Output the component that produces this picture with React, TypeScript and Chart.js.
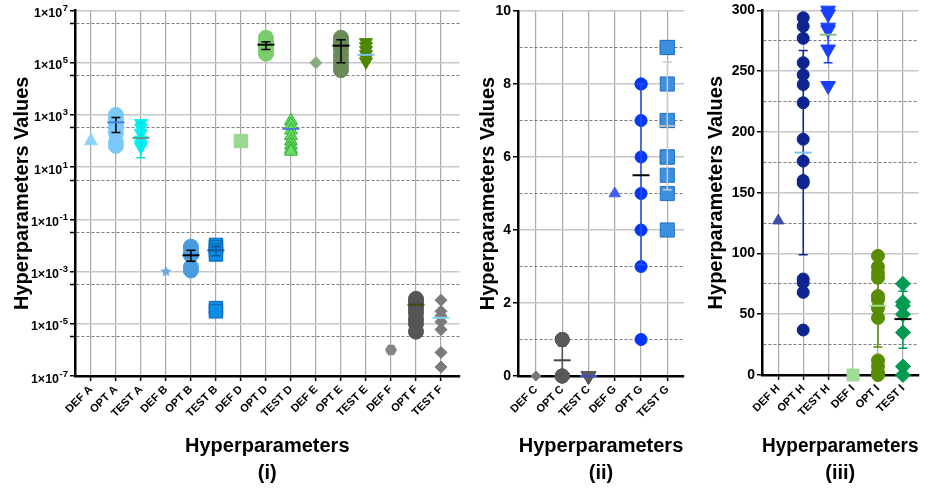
import React, { useEffect, useRef } from 'react';
import { Chart, registerables } from 'chart.js';
Chart.register(...registerables);

const FONT = '"Liberation Sans", Arial, Helvetica, "DejaVu Sans", sans-serif';

// ---------- Panel (i): log scale ----------
const catsI = ['DEF A', 'OPT A', 'TEST A', 'DEF B', 'OPT B', 'TEST B', 'DEF D', 'OPT D', 'TEST D', 'DEF E', 'OPT E', 'TEST E', 'DEF F', 'OPT F', 'TEST F'];
const valsI: number[][] = [
  [100],
  [1000, 850, 650, 450, 300, 200, 90, 65],
  [480, 320, 200, 110, 75, 60],
  [0.001],
  [0.009, 0.0075, 0.0055, 0.0042, 0.0015, 0.0011],
  [0.0105, 0.0085, 0.0065, 0.0045, 0.00004, 0.00003],
  [100],
  [900000, 700000, 550000, 400000, 300000, 220000],
  [600, 420, 260, 160, 100, 70, 50, 40],
  [100000],
  [900000, 700000, 500000, 330000, 200000, 120000, 80000, 52000],
  [600000, 420000, 300000, 210000, 150000, 110000],
  [0.000001],
  [0.00009, 0.00007, 0.00005, 0.000035, 0.000025, 0.000015, 0.00001, 0.000005],
  [0.00008, 0.00003, 0.00002, 0.000012, 0.000006, 0.0000008, 0.00000022],
];
const meansI = [null, 520, 130, null, 0.0042, 0.0065, null, 490000, 290, null, 450000, 200000, null, 0.000054, 0.000017];
const errLoI = [null, 210, 23, null, 0.0025, 0.004, null, 320000, null, null, 100000, null, null, null, null];
const errHiI = [null, 800, 500, null, 0.0065, 0.0095, null, 640000, null, null, 750000, null, null, null, null];
const yTicksI = [1e-7, 3.16e-6, 1e-5, 3.16e-4, 1e-3, 3.16e-2, 1e-1, 3.16, 10, 316, 1000, 31600, 1e5, 3.16e6, 1e7];
const yLabelsI = ['1×10^-7', '', '1×10^-5', '', '1×10^-3', '', '1×10^-1', '', '1×10^1', '', '1×10^3', '', '1×10^5', '', '1×10^7'];

// ---------- Panel (ii) ----------
const catsII = ['DEF C', 'OPT C', 'TEST C', 'DEF G', 'OPT G', 'TEST G'];
const valsII: number[][] = [
  [0],
  [1, 1, 1, 0, 0, 0, 0],
  [0, 0, 0],
  [5],
  [1, 3, 4, 5, 6, 7, 8, 8],
  [4, 5, 5.5, 6, 6, 7, 7, 8, 9, 9],
];
const meansII = [null, 0.43, 0, null, 5.5, 6.85];
const errLoII = [null, 0.05, null, null, 3.05, 5.1];
const errHiII = [null, 0.82, null, null, 8, 8.6];
const yTicksII = [0, 1, 2, 3, 4, 5, 6, 7, 8, 9, 10];
const yLabelsII = ['0', '', '2', '', '4', '', '6', '', '8', '', '10'];

// ---------- Panel (iii) ----------
const catsIII = ['DEF H', 'OPT H', 'TEST H', 'DEF I', 'OPT I', 'TEST I'];
const valsIII: number[][] = [
  [127],
  [294, 287, 277, 257, 247, 239, 224, 194, 176, 160, 158, 79, 76, 68, 37],
  [300, 297, 286, 284, 268, 238],
  [0],
  [98, 89, 84, 80, 65, 62, 55, 47, 12, 7, 2, 1, 0],
  [75, 60, 57, 50, 35, 7, 0],
];
const meansIII = [null, 183, 280, null, 57, 46];
const errLoIII = [null, 99, 257, null, 23, 22];
const errHiIII = [null, 267, 300, null, 91, 69];
const yTicksIII = [0, 25, 50, 75, 100, 125, 150, 175, 200, 225, 250, 275, 300];
const yLabelsIII = ['0', '', '50', '', '100', '', '150', '', '200', '', '250', '', '300'];

type Panel = {
  title: string;
  cats: string[];
  values: number[][];
  means: (number | null)[];
  lo: (number | null)[];
  hi: (number | null)[];
  styles: string[];
  colors: string[];
  borders: string[];
  radii: number[];
  meanColors: string[];
  errColors: string[];
  yType: 'linear' | 'logarithmic';
  yMin: number;
  yMax: number;
  yTicks: number[];
  yLabels: string[];
  yFont: number;
  superscript: boolean;
  minorTicks: boolean;
  xMin: number;
  xMax: number;
  yWidth: number;
  xHeight: number;
  padRight: number;
  yTitlePad: number;
};

const panelI: Panel = {
  title: '(i)', cats: catsI, values: valsI, means: meansI, lo: errLoI, hi: errHiI,
  styles: ['triangle', 'circle', 'triangleDown', 'star', 'circle', 'rect', 'rect', 'circle', 'triangle', 'rectRot', 'circle', 'triangleDown', 'hexagon', 'circle', 'rectRot'],
  colors: ['#8fd4f7', '#7cc8f8', '#00f2f2', '#6aa8e0', '#4a9ce2', '#0a8de6', '#98d890', '#7ccc6c', '#62e062', '#8aab7c', '#6a8a58', '#4a8800', '#858585', '#555555', '#7a7a7a'],
  borders: ['#8fd4f7', '#7cc8f8', '#00f2f2', '#6aa8e0', '#4a9ce2', '#0a64b4', '#98d890', '#7ccc6c', '#3caa3c', '#8aab7c', '#6a8a58', '#4a8800', '#858585', '#555555', '#7a7a7a'],
  radii: [7.5, 7.5, 7.5, 6, 7.5, 9.5, 9.5, 7.5, 7.5, 6, 7.5, 7.5, 6, 7.5, 6],
  meanColors: ['', '#4a7fd4', '#5b9e80', '', '#000', '#0b5aa0', '', '#000', '#4a7fd4', '', '#000', '#7fc0e8', '', '#3a4a10', '#7fd8f0'],
  errColors: ['', '#000', '#00e0e0', '', '#000', '#0b5aa0', '', '#000', '#3caa3c', '', '#000', '#2e5e00', '', '#333', '#666'],
  yType: 'logarithmic', yMin: 1e-7, yMax: 1e7, yTicks: yTicksI, yLabels: yLabelsI, yFont: 13, superscript: true, minorTicks: true,
  xMin: -0.636, xMax: 14.74, yWidth: 75, xHeight: 115, padRight: 8, yTitlePad: 10,
};

const panelII: Panel = {
  title: '(ii)', cats: catsII, values: valsII, means: meansII, lo: errLoII, hi: errHiII,
  styles: ['rectRot', 'circle', 'triangleDown', 'triangle', 'circle', 'rect'],
  colors: ['#777777', '#5a5a5a', '#5a5a5a', '#4060f0', '#0535f5', '#3a90e0'],
  borders: ['#777777', '#5a5a5a', '#5a5a5a', '#4060f0', '#0535f5', '#2a70c0'],
  radii: [5, 7, 8.5, 6.5, 6, 10],
  meanColors: ['', '#444', '#3050d0', '', '#000', '#bbbbbb'],
  errColors: ['', '#555', '', '', '#2050f0', '#cccccc'],
  yType: 'linear', yMin: 0, yMax: 10, yTicks: yTicksII, yLabels: yLabelsII, yFont: 14, superscript: false, minorTicks: false,
  xMin: -0.684, xMax: 5.635, yWidth: 48, xHeight: 115, padRight: 11, yTitlePad: 6,
};

const panelIII: Panel = {
  title: '(iii)', cats: catsIII, values: valsIII, means: meansIII, lo: errLoIII, hi: errHiIII,
  styles: ['triangle', 'circle', 'triangleDown', 'rect', 'circle', 'rectRot'],
  colors: ['#3a4fa5', '#0c2590', '#1a40ff', '#a0dc98', '#5a8c00', '#009a50'],
  borders: ['#3a4fa5', '#0c2590', '#1a40ff', '#a0dc98', '#5a8c00', '#009a50'],
  radii: [6.5, 6, 8.5, 8.5, 6.5, 7.5],
  meanColors: ['', '#80c0f0', '#8fc080', '', '#a0e090', '#000'],
  errColors: ['', '#0c2590', '#1a40ff', '', '#5a8c00', '#009a50'],
  yType: 'linear', yMin: 0, yMax: 300, yTicks: yTicksIII, yLabels: yLabelsIII, yFont: 14, superscript: false, minorTicks: false,
  xMin: -0.652, xMax: 5.625, yWidth: 67, xHeight: 116, padRight: 5, yTitlePad: 9,
};

function shapeCanvas(kind: string, r: number, color: string): HTMLCanvasElement {
  const c = document.createElement('canvas');
  const s = Math.ceil(2 * r + 2);
  c.width = s; c.height = s;
  const g = c.getContext('2d')!;
  const cx = s / 2, cy = s / 2;
  g.fillStyle = color;
  g.beginPath();
  if (kind === 'star') {
    for (let k = 0; k < 10; k++) {
      const rad = k % 2 === 0 ? r : r * 0.45;
      const a = -Math.PI / 2 + (k * Math.PI) / 5;
      const px = cx + rad * Math.cos(a), py = cy + rad * Math.sin(a);
      if (k === 0) g.moveTo(px, py); else g.lineTo(px, py);
    }
  } else {
    for (let k = 0; k < 6; k++) {
      const a = (k * Math.PI) / 3;
      const px = cx + r * Math.cos(a), py = cy + r * Math.sin(a);
      if (k === 0) g.moveTo(px, py); else g.lineTo(px, py);
    }
  }
  g.closePath();
  g.fill();
  return c;
}

function meanPlugin(p: Panel) {
  return {
    id: 'meanErr',
    afterDatasetsDraw(chart: any) {
      const { ctx } = chart;
      const x = chart.scales.x, y = chart.scales.y;
      ctx.save();
      p.means.forEach((m, i) => {
        const cx = x.getPixelForValue(i);
        const lo = p.lo[i], hi = p.hi[i];
        if (lo != null && hi != null) {
          const y1 = y.getPixelForValue(lo), y2 = y.getPixelForValue(hi);
          ctx.strokeStyle = p.errColors[i];
          ctx.lineWidth = 1.5;
          ctx.beginPath();
          ctx.moveTo(cx, y1); ctx.lineTo(cx, y2);
          ctx.moveTo(cx - 4.5, y1); ctx.lineTo(cx + 4.5, y1);
          ctx.moveTo(cx - 4.5, y2); ctx.lineTo(cx + 4.5, y2);
          ctx.stroke();
        }
        if (m != null) {
          const ym = y.getPixelForValue(m);
          ctx.strokeStyle = p.meanColors[i];
          ctx.lineWidth = 2;
          ctx.beginPath();
          ctx.moveTo(cx - 8.5, ym); ctx.lineTo(cx + 8.5, ym);
          ctx.stroke();
        }
      });
      // superscript tick labels (1×10^n)
      if (p.superscript) {
        const right = y.right - 7;
        p.yTicks.forEach((v, i) => {
          const lab = p.yLabels[i];
          if (!lab) return;
          const [base, exp] = lab.split('^');
          const ty = y.getPixelForValue(v);
          ctx.fillStyle = '#000';
          ctx.textBaseline = 'alphabetic';
          ctx.textAlign = 'left';
          ctx.font = `bold 9.5px ${FONT}`;
          const ew = ctx.measureText(exp).width;
          ctx.font = `bold 12.5px ${FONT}`;
          const bw = ctx.measureText(base).width;
          const x0 = right - ew - bw - 0.5;
          ctx.fillText(base, x0, ty + 6.5);
          ctx.font = `bold 9.5px ${FONT}`;
          ctx.fillText(exp, x0 + bw + 0.5, ty + 0.5);
        });
      }
      ctx.restore();
    },
  };
}

function makeChart(canvas: HTMLCanvasElement, p: Panel) {
  const isMinor = (i: number) => p.yLabels[i] === '';
  const datasets = p.values.map((vals, i) => {
    const st = p.styles[i];
    let pointStyle: any = st;
    if (st === 'triangleDown') pointStyle = 'triangle';
    if (st === 'star' || st === 'hexagon') pointStyle = shapeCanvas(st, p.radii[i], p.colors[i]);
    return {
      data: vals.map((v) => ({ x: i, y: v })),
      pointStyle,
      rotation: st === 'triangleDown' ? 180 : 0,
      pointRadius: p.radii[i],
      backgroundColor: p.colors[i],
      borderColor: p.borders[i],
      borderWidth: 1,
      clip: false as any,
    };
  });
  return new Chart(canvas, {
    type: 'scatter',
    data: { datasets },
    options: {
      animation: false,
      responsive: false,
      events: [],
      layout: { padding: { left: 0, right: p.padRight, top: 10, bottom: 0 } },
      plugins: { legend: { display: false }, tooltip: { enabled: false } },
      scales: {
        x: {
          type: 'linear',
          min: p.xMin,
          max: p.xMax,
          afterBuildTicks: (s: any) => { s.ticks = p.cats.map((_, i) => ({ value: i })); },
          afterFit: (s: any) => { s.height = p.xHeight; },
          ticks: {
            autoSkip: false, maxRotation: 45, minRotation: 45, padding: 2,
            color: '#000',
            font: { family: FONT, size: 11, weight: 'bold' },
            callback: (v: any) => p.cats[v as number] ?? '',
          },
          grid: { color: '#a9a9a9', lineWidth: 1.2, tickColor: '#000', tickLength: 5, tickWidth: 1.5 },
          border: { color: '#000', width: 2.5 },
          title: {
            display: true,
            text: ['Hyperparameters', p.title],
            color: '#000',
            font: { family: FONT, size: 20, weight: 'bold', lineHeight: 1.35 },
            padding: { top: 0, bottom: 4 },
          },
        },
        y: {
          type: p.yType,
          min: p.yMin,
          max: p.yMax,
          afterBuildTicks: (s: any) => { s.ticks = p.yTicks.map((v) => ({ value: v })); },
          afterFit: (s: any) => { s.width = p.yWidth; },
          ticks: {
            padding: 2,
            color: '#000',
            font: { family: FONT, size: p.yFont, weight: 'bold' },
            callback: (_v: any, i: number) => (p.superscript ? '' : p.yLabels[i] ?? ''),
          },
          grid: {
            color: (c: any) => (isMinor(c.index) ? '#5a5a5a' : '#c6c6c6'),
            lineWidth: (c: any) => (isMinor(c.index) ? 0.8 : 1.5),
            tickColor: (c: any) => (isMinor(c.index) && !p.minorTicks ? 'rgba(0,0,0,0)' : '#000'),
            tickLength: 5,
            tickWidth: 1.5,
          },
          border: {
            color: '#000',
            width: 2.5,
            dash: (c: any) => (c.type === 'tick' && isMinor(c.index) ? [3, 2] : []),
          } as any,
          title: {
            display: true,
            text: 'Hyperparameters Values',
            color: '#000',
            font: { family: FONT, size: 20, weight: 'bold', lineHeight: 1.2 },
            padding: { top: p.yTitlePad, bottom: 0 },
          },
        },
      },
    } as any,
    plugins: [meanPlugin(p)],
  });
}

function PanelChart({ p, left, width }: { p: Panel; left: number; width: number }) {
  const ref = useRef<HTMLCanvasElement>(null);
  useEffect(() => {
    const chart = makeChart(ref.current!, p);
    return () => chart.destroy();
  }, [p]);
  return (
    <canvas
      ref={ref}
      width={width}
      height={491}
      style={{ position: 'absolute', left, top: 0, width, height: 491 }}
    />
  );
}

export default function App() {
  return (
    <div style={{ position: 'fixed', left: 0, top: 0, width: 928, height: 491, background: '#fff', overflow: 'hidden' }}>
      <PanelChart p={panelI} left={0} width={470} />
      <PanelChart p={panelII} left={470} width={225} />
      <PanelChart p={panelIII} left={695} width={233} />
    </div>
  );
}
